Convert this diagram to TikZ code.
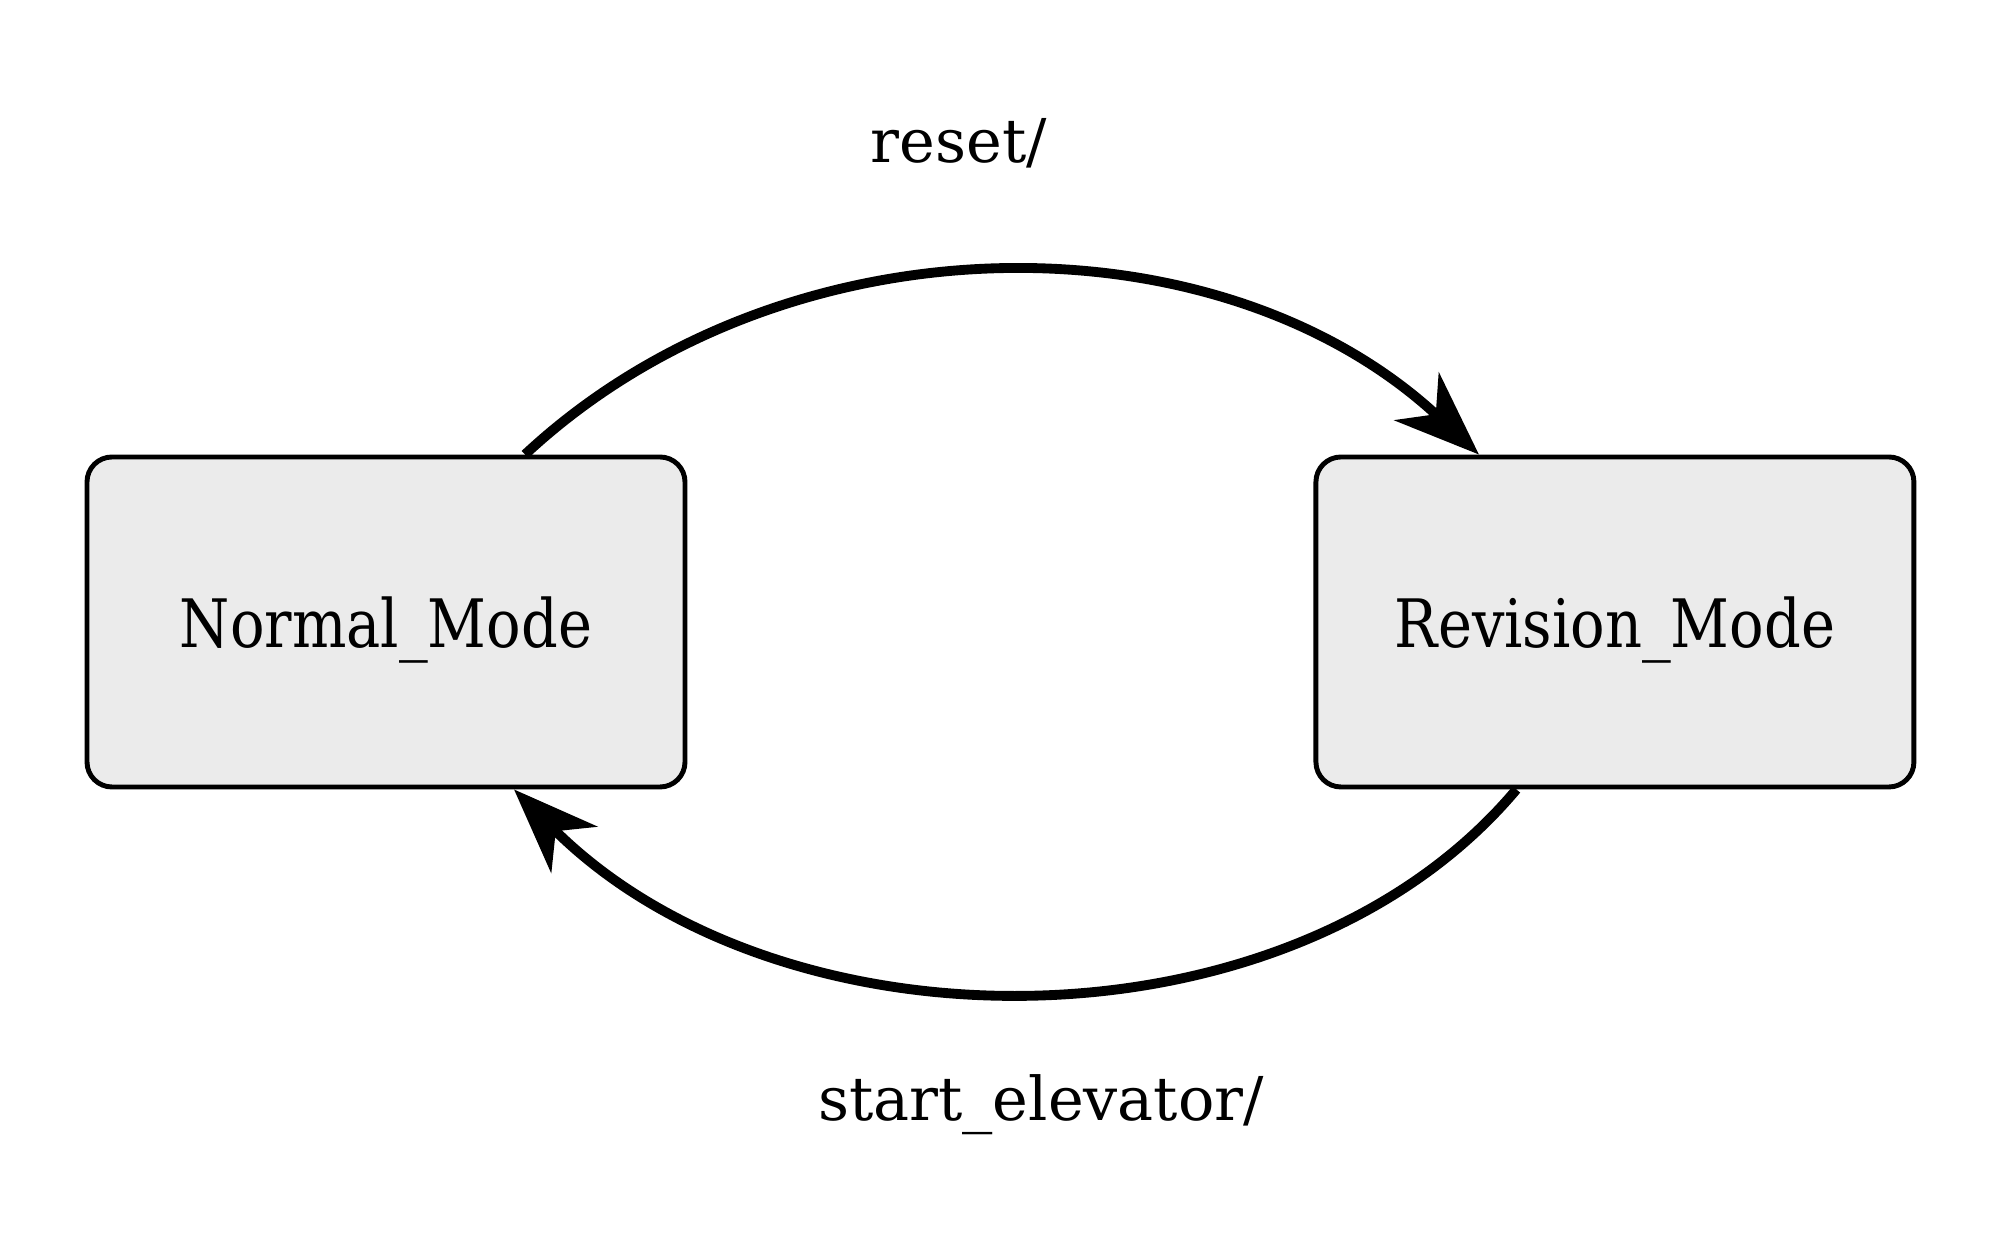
\documentclass[tikz,border=0pt]{standalone}
\usepackage{fontspec}
\setmainfont{DejaVu Serif}
\newfontfamily\modefont[FakeStretch=0.86]{DejaVu Serif}
\usetikzlibrary{arrows.meta,positioning}

\begin{document}
\begin{tikzpicture}[>={Stealth[length=8.5mm,width=6.5mm,inset=2.6mm]}, line width=2.8pt, node distance=6.26cm]
			\tikzstyle{mode}=[draw=black,fill=black!8,line width=1.4pt,rounded corners=2.5mm,
			minimum width=5.98cm,minimum height=3.3cm,inner sep=0pt,text depth=0pt,font=\modefont\fontsize{19}{22}\selectfont]
			\tikzstyle{trans}=[font=\fontsize{17.2}{20}\selectfont,inner sep=0pt]

			\useasboundingbox (0,0) rectangle (20,12.39);
			\begin{scope}
				\node[mode] (normal) at (3.86,6.17) {Normal\_Mode};
				\node[mode] (revision) [right=of normal] {Revision\_Mode};
				\node[trans] (reset) at (9.59,10.96) {reset/};
				\node[trans] (start) at (10.41,1.34) {start\_elevator/};

				\draw[->] ([xshift=1.39cm]normal.north) .. controls +(43:3.55) and +(137:3.55) .. ([xshift=-1.36cm]revision.north);
				\draw[->] ([xshift=-0.985cm]revision.south) .. controls +(230:3.5) and +(-45:3.8) .. ([xshift=1.28cm]normal.south);
			\end{scope}
		\end{tikzpicture}
\end{document}
